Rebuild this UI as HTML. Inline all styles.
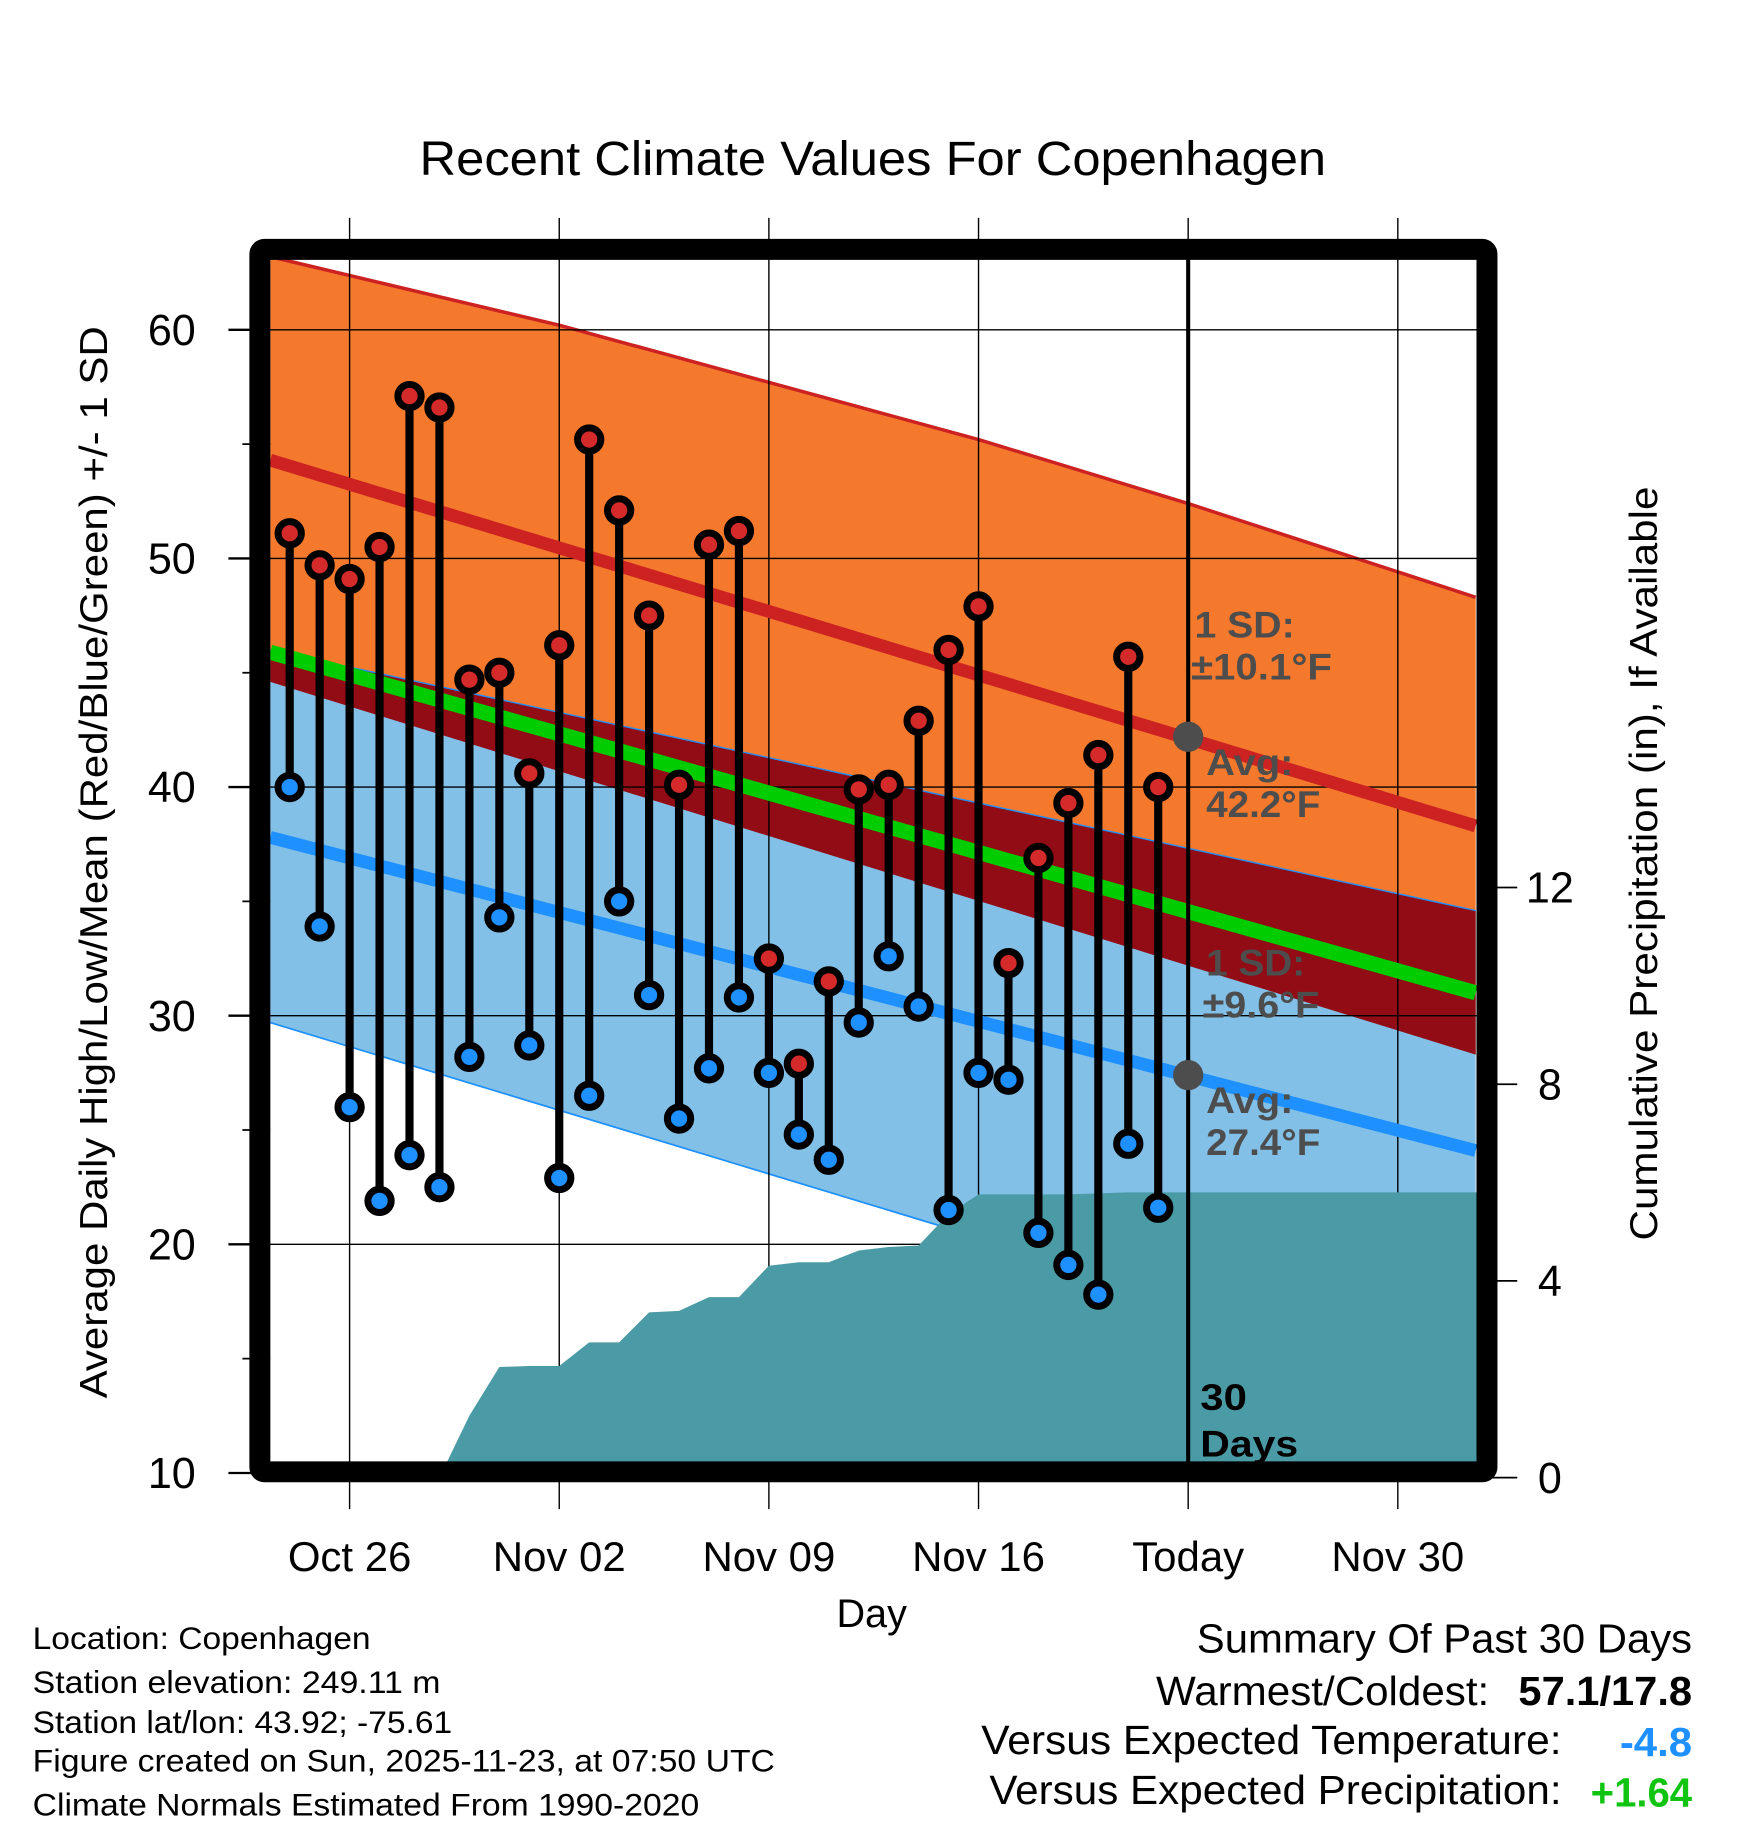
<!DOCTYPE html>
<html><head><meta charset="utf-8"><style>
html,body{margin:0;padding:0;background:#fff}
svg{display:block;font-family:"Liberation Sans",sans-serif}
</style></head><body>
<svg id="chart" width="1748" height="1828" viewBox="0 0 1500 1568.65" xmlns="http://www.w3.org/2000/svg">
<rect width="1500" height="1568.65" fill="#fff"/>
<text x="749" y="150" font-size="41" text-anchor="middle" textLength="778" lengthAdjust="spacingAndGlyphs">Recent Climate Values For Copenhagen</text>
<g id="bands"></g>
<g id="grid"></g>
<g id="precip"></g>
<g id="lines"></g>
<g id="marks"></g>
<g id="annot"></g>
<g id="frame"></g>
<text transform="translate(92,740) rotate(-90)" font-size="33" text-anchor="middle" textLength="920" lengthAdjust="spacingAndGlyphs">Average Daily High/Low/Mean (Red/Blue/Green) +/- 1 SD</text>
<text transform="translate(1422,741) rotate(-90)" font-size="33" text-anchor="middle" textLength="647" lengthAdjust="spacingAndGlyphs">Cumulative Precipitation (in), If Available</text>
<text x="748" y="1396" font-size="34" text-anchor="middle">Day</text>
<g font-size="27">
<text x="28" y="1415" textLength="290" lengthAdjust="spacingAndGlyphs">Location: Copenhagen</text>
<text x="28" y="1453" textLength="350" lengthAdjust="spacingAndGlyphs">Station elevation: 249.11 m</text>
<text x="28" y="1487" textLength="360" lengthAdjust="spacingAndGlyphs">Station lat/lon: 43.92; -75.61</text>
<text x="28" y="1520" textLength="637" lengthAdjust="spacingAndGlyphs">Figure created on Sun, 2025-11-23, at 07:50 UTC</text>
<text x="28" y="1558" textLength="572" lengthAdjust="spacingAndGlyphs">Climate Normals Estimated From 1990-2020</text>
</g>
<g font-size="35">
<text x="1452" y="1418" text-anchor="end" textLength="425" lengthAdjust="spacingAndGlyphs">Summary Of Past 30 Days</text>
<text x="1278" y="1463" text-anchor="end" textLength="286" lengthAdjust="spacingAndGlyphs">Warmest/Coldest:</text>
<text x="1452" y="1463" text-anchor="end" font-weight="bold" textLength="149" lengthAdjust="spacingAndGlyphs">57.1/17.8</text>
<text x="1340" y="1505" text-anchor="end" textLength="498" lengthAdjust="spacingAndGlyphs">Versus Expected Temperature:</text>
<text x="1452" y="1507" text-anchor="end" font-weight="bold" fill="#1e90ff" textLength="62" lengthAdjust="spacingAndGlyphs">-4.8</text>
<text x="1340" y="1548" text-anchor="end" textLength="491" lengthAdjust="spacingAndGlyphs">Versus Expected Precipitation:</text>
<text x="1452" y="1550" text-anchor="end" font-weight="bold" fill="#11c411" textLength="87" lengthAdjust="spacingAndGlyphs">+1.64</text>
</g>
</svg>
<script>
const highs=[51.1,49.7,49.1,50.5,57.1,56.6,44.7,45.0,40.6,46.2,55.2,52.1,47.5,40.1,50.6,51.2,32.5,27.9,31.5,39.9,40.1,42.9,46.0,47.9,32.3,36.9,39.3,41.4,45.7,40.0];
const lows=[40.0,33.9,26.0,21.9,23.9,22.5,28.2,34.3,28.7,22.9,26.5,35.0,30.9,25.5,27.7,30.8,27.5,24.8,23.7,29.7,32.6,30.4,21.5,27.5,27.2,20.5,19.1,17.8,24.4,21.6];
const precip=[0,0,0,0,0,0,1.26,2.25,2.27,2.27,2.75,2.75,3.36,3.39,3.67,3.67,4.31,4.38,4.38,4.62,4.69,4.72,5.36,5.76,5.76,5.76,5.76,5.78,5.8,5.8];
const normalDays=[-0.65,39.6];
const upperDays=[-0.65,9,23,30,39.6];
const hiUpper=[63.2,60.2,55.2,52.4,48.3];
const hiAvg=[54.3,38.3];
const hiLower=[44.6,28.3];
const meanAvg=[45.9,31.0];
const loUpper=[46.0,34.6];
const loAvg=[37.8,24.1];
const loLower=[29.7,13.7];
const xTickDays=[2,9,16,23,30,37];
const xTickLabels=["Oct 26","Nov 02","Nov 09","Nov 16","Today","Nov 30"];
const yTicks=[10,20,30,40,50,60];
const y2Ticks=[0,4,8,12];
const todayDay=30;
const todayHigh=42.2, todayLow=27.4;

const NS="http://www.w3.org/2000/svg";
const L=232,R=1268,T=223,B=1262;
const x=d=>248.6+d*25.7;
const y=v=>283+(60-v)*19.62;
const y2=p=>1268-p*42.2;
function mk(tag,attrs,parent){const e=document.createElementNS(NS,tag);for(const k in attrs)e.setAttribute(k,attrs[k]);parent.appendChild(e);return e;}
const g=id=>document.getElementById(id);

const fwd=(a,d=normalDays)=>a.map((v,i)=>`${x(d[i])},${y(v)}`).join(' ');
const rev=(a,d=normalDays)=>a.map((v,i)=>`${x(d[i])},${y(v)}`).reverse().join(' ');
let e;
e=mk('polygon',{points:fwd(hiUpper,upperDays)+' '+rev(hiLower),fill:'#f5792c'},g('bands'));


e=mk('polygon',{points:fwd(loUpper)+' '+rev(loLower),fill:'#82c0e8'},g('bands'));


e=mk('polygon',{points:fwd(loUpper)+' '+rev(hiLower),fill:'#910c14'},g('bands'));


e=mk('polyline',{points:fwd(hiUpper,upperDays),fill:'none',stroke:'#cc2222','stroke-width':3,'stroke-linejoin':'round'},g('bands'));


e=mk('polyline',{points:fwd(loUpper),fill:'none',stroke:'#1e90ff','stroke-width':1.2},g('bands'));


e=mk('polyline',{points:fwd(loLower),fill:'none',stroke:'#1e90ff','stroke-width':1.5},g('bands'));



yTicks.forEach((v,i)=>{
  if(v>10&&v<=60){const ln=mk('line',{x1:L,x2:R,y1:y(v),y2:y(v),stroke:'#000','stroke-width':1.2},g('grid'));
  
  }
  const tk=mk('line',{x1:196,x2:L,y1:y(v),y2:y(v),stroke:'#000','stroke-width':2},g('frame'));
  
  
  const t=mk('text',{x:168,y:y(v)+13,'font-size':37,'text-anchor':'end'},g('frame'));t.textContent=v;
  
  
});
for(let v=15;v<60;v+=10){const tk=mk('line',{x1:208,x2:L,y1:y(v),y2:y(v),stroke:'#000','stroke-width':1.5},g('frame'));
  
  }
xTickDays.forEach((d,i)=>{
  const ln=mk('line',{x1:x(d),x2:x(d),y1:187,y2:1295,stroke:'#000','stroke-width':1.2},g('grid'));
  
  
  const t=mk('text',{x:x(d),y:1348,'font-size':36,'text-anchor':'middle'},g('frame'));t.textContent=xTickLabels[i];
  
  
});
y2Ticks.forEach(p=>{
  const tk=mk('line',{x1:1276,x2:1302,y1:y2(p),y2:y2(p),stroke:'#000','stroke-width':1.5},g('frame'));
  
  
  const t=mk('text',{x:1330,y:y2(p)+13,'font-size':37,'text-anchor':'middle'},g('frame'));t.textContent=p;
  
  
});

let pts=`${x(0)},${y2(0)}`;
precip.forEach((p,i)=>{pts+=` ${x(i)},${y2(p)}`;});
pts+=` ${R},${y2(precip[precip.length-1])} ${R},${B} ${x(0)},${B}`;
e=mk('polygon',{points:pts,fill:'#4a9ba5'},g('precip'));



e=mk('polyline',{points:fwd(meanAvg),fill:'none',stroke:'#00cc00','stroke-width':13},g('lines'));


e=mk('polyline',{points:fwd(hiAvg),fill:'none',stroke:'#cc2222','stroke-width':11},g('lines'));


e=mk('polyline',{points:fwd(loAvg),fill:'none',stroke:'#1e90ff','stroke-width':11},g('lines'));



highs.forEach((h,i)=>{
  const b=mk('line',{x1:x(i),x2:x(i),y1:y(h),y2:y(lows[i]),stroke:'#000','stroke-width':7},g('marks'));
  
  
});
highs.forEach((h,i)=>{
  const c1=mk('circle',{cx:x(i),cy:y(h),r:10,fill:'#d42a2a',stroke:'#000','stroke-width':6},g('marks'));
  
  
  const c2=mk('circle',{cx:x(i),cy:y(lows[i]),r:10,fill:'#1e90ff',stroke:'#000','stroke-width':6},g('marks'));
  
  
});

const tx=x(todayDay);
e=mk('line',{x1:tx,x2:tx,y1:T,y2:B,stroke:'#000','stroke-width':3.5},g('annot'));


e=mk('circle',{cx:tx,cy:y(todayHigh),r:13,fill:'#4d4d4d'},g('annot'));


e=mk('circle',{cx:tx,cy:y(todayLow),r:13,fill:'#4d4d4d'},g('annot'));


const notes=[["1 SD:",1025,547,'#4d4d4d',86],["±10.1°F",1022,583,'#4d4d4d',121],["Avg:",1035,665,'#4d4d4d',75],[todayHigh.toFixed(1)+"°F",1035,701,'#4d4d4d',98],
["1 SD:",1035,837,'#4d4d4d',85],["±9.6°F",1032,873,'#4d4d4d',100],["Avg:",1035,955,'#4d4d4d',75],[todayLow.toFixed(1)+"°F",1035,991,'#4d4d4d',98],
["30",1030,1210,'#000',40],["Days",1030,1250,'#000',84]];
notes.forEach(n=>{const t=mk('text',{x:n[1],y:n[2],'font-size':32,'font-weight':'bold',fill:n[3],textLength:n[4],lengthAdjust:'spacingAndGlyphs'},g('annot'));t.textContent=n[0];
  
  });

e=mk('rect',{x:223,y:214,width:1053,height:1049,fill:'none',stroke:'#000','stroke-width':18,rx:4},g('frame'));


</script>
</body></html>
